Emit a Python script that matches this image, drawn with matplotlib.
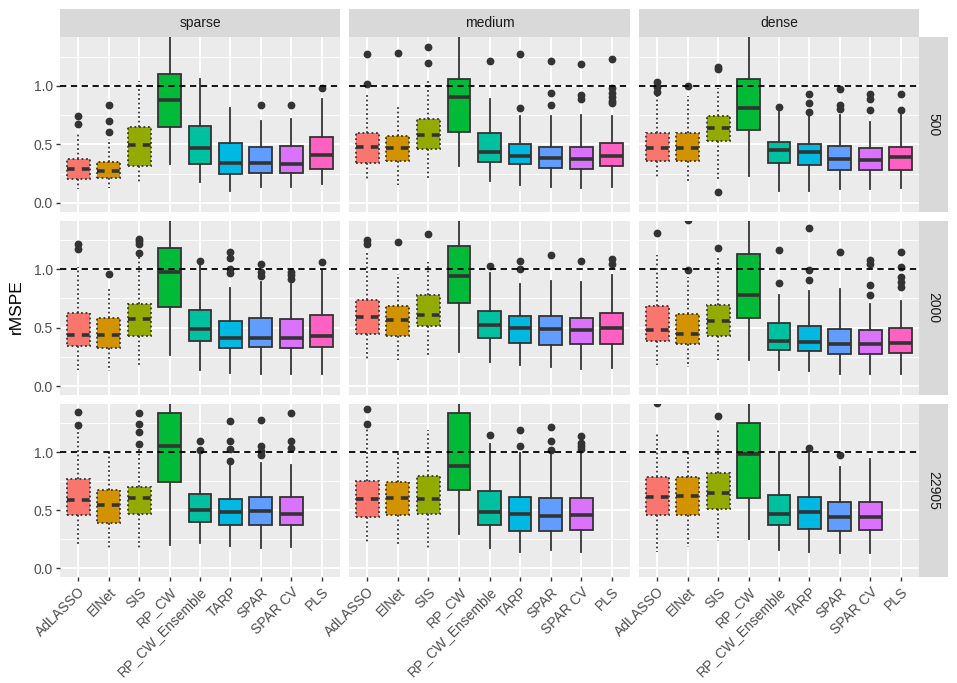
import matplotlib
matplotlib.use('Agg')
import matplotlib.pyplot as plt

plt.rcParams['font.family'] = ['Liberation Sans', 'DejaVu Sans']

methods = ['AdLASSO', 'ElNet', 'SIS', 'RP_CW', 'RP_CW_Ensemble', 'TARP', 'SPAR', 'SPAR CV', 'PLS']
colors = ['#F8766D', '#D39200', '#93AA00', '#00BA38', '#00C19F', '#00B9E3', '#619CFF', '#DB72FB', '#FF61C3']
dotted_methods = ['AdLASSO', 'ElNet', 'SIS']
densities = ['sparse', 'medium', 'dense']
sizes = ['500', '2000', '22905']

# (whisker low, q1, median, q3, whisker high) per method
sparse_500 = [(0.12, 0.205, 0.288, 0.376, 0.60), (0.13, 0.211, 0.274, 0.353, 0.55),
              (0.18, 0.319, 0.496, 0.652, 1.04), (0.33, 0.647, 0.88, 1.103, 1.6),
              (0.18, 0.333, 0.467, 0.658, 1.06), (0.105, 0.245, 0.339, 0.515, 0.81),
              (0.14, 0.259, 0.342, 0.479, 0.70), (0.14, 0.256, 0.33, 0.487, 0.72),
              (0.16, 0.291, 0.41, 0.564, 0.89)]
sparse_500_out = [[0.744, 0.675], [0.838, 0.70, 0.604], [], [], [], [], [0.838], [0.838], [0.985]]

medium_500 = [(0.197, 0.344, 0.479, 0.601, 0.93), (0.154, 0.359, 0.473, 0.575, 0.823),
              (0.205, 0.459, 0.581, 0.715, 1.05), (0.316, 0.609, 0.903, 1.057, 1.6),
              (0.188, 0.35, 0.433, 0.601, 0.889), (0.154, 0.33, 0.402, 0.501, 0.746),
              (0.14, 0.296, 0.385, 0.481, 0.744), (0.125, 0.288, 0.379, 0.479, 0.752),
              (0.134, 0.316, 0.405, 0.512, 0.744)]
medium_500_out = [[1.27, 1.017], [1.28], [1.333, 1.194], [], [1.214], [1.274, 0.815],
                  [1.21, 0.938, 0.838], [1.188, 0.923, 0.886],
                  [1.228, 0.98, 0.94, 0.906, 0.872, 0.852]]

dense_500 = [(0.225, 0.362, 0.473, 0.596, 0.91), (0.174, 0.359, 0.473, 0.601, 0.91),
             (0.2, 0.533, 0.644, 0.746, 0.98), (0.231, 0.62, 0.809, 1.057, 1.6),
             (0.105, 0.339, 0.453, 0.524, 0.78), (0.103, 0.325, 0.439, 0.504, 0.752),
             (0.117, 0.282, 0.373, 0.49, 0.752), (0.117, 0.279, 0.368, 0.467, 0.695),
             (0.125, 0.279, 0.396, 0.481, 0.752)]
dense_500_out = [[1.037, 0.989, 0.951], [1.0], [1.165, 1.142, 0.094], [], [0.823],
                 [0.929, 0.852, 0.775], [0.974, 0.838, 0.80], [0.932, 0.886, 0.795], [0.929, 0.795]]

sparse_2000 = [(0.137, 0.345, 0.439, 0.627, 1.02), (0.131, 0.328, 0.439, 0.579, 0.849),
               (0.165, 0.427, 0.573, 0.707, 1.12), (0.265, 0.678, 0.977, 1.18, 1.6),
               (0.137, 0.387, 0.487, 0.655, 1.034), (0.114, 0.33, 0.416, 0.558, 0.843),
               (0.103, 0.336, 0.416, 0.579, 0.892), (0.103, 0.33, 0.41, 0.573, 0.872),
               (0.103, 0.336, 0.427, 0.607, 0.991)]
sparse_2000_out = [[1.22, 1.17], [0.963], [1.26, 1.24, 1.22, 1.14], [], [1.074],
                   [1.148, 1.1, 1.006, 0.969], [1.048, 0.977, 0.94], [0.977, 0.95, 0.915], [1.063]]

medium_2000 = [(0.236, 0.45, 0.593, 0.735, 1.15), (0.228, 0.43, 0.57, 0.684, 0.963),
               (0.256, 0.513, 0.613, 0.778, 1.063), (0.293, 0.712, 0.94, 1.197, 1.6),
               (0.208, 0.413, 0.527, 0.641, 0.969), (0.185, 0.373, 0.499, 0.601, 0.877),
               (0.165, 0.35, 0.493, 0.598, 0.9), (0.145, 0.359, 0.484, 0.587, 0.892),
               (0.16, 0.365, 0.501, 0.627, 0.949)]
medium_2000_out = [[1.248, 1.22], [1.234], [1.305], [], [1.026], [1.071, 1.0], [1.12], [1.068],
                   [1.091, 1.048]]

dense_2000 = [(0.179, 0.385, 0.479, 0.684, 1.12), (0.165, 0.365, 0.444, 0.615, 0.934),
              (0.222, 0.43, 0.556, 0.692, 1.105), (0.228, 0.581, 0.778, 1.128, 1.6),
              (0.142, 0.308, 0.387, 0.541, 0.778), (0.131, 0.299, 0.382, 0.516, 0.815),
              (0.103, 0.274, 0.359, 0.493, 0.835), (0.108, 0.279, 0.359, 0.484, 0.701),
              (0.108, 0.288, 0.373, 0.501, 0.729)]
dense_2000_out = [[1.31], [0.997, 1.42], [1.185], [], [1.162, 0.886], [1.353, 0.991, 0.906],
                  [1.148], [1.077, 1.048, 0.863, 0.783], [1.148, 1.02, 0.93, 0.89, 0.85]]

sparse_22905 = [(0.205, 0.459, 0.59, 0.767, 1.2), (0.177, 0.39, 0.544, 0.675, 1.003),
                (0.162, 0.467, 0.607, 0.704, 1.046), (0.197, 0.746, 1.054, 1.339, 1.6),
                (0.214, 0.396, 0.504, 0.638, 0.974), (0.191, 0.376, 0.481, 0.596, 0.889),
                (0.177, 0.376, 0.49, 0.61, 0.903), (0.185, 0.376, 0.47, 0.61, 0.889), None]
sparse_22905_out = [[1.35, 1.237], [], [1.336, 1.245, 1.174, 1.074], [], [1.094, 1.023],
                    [1.268, 1.097, 1.031, 0.926], [1.276, 1.051, 1.011, 0.972],
                    [1.336, 1.097, 1.037], []]

medium_22905 = [(0.205, 0.442, 0.595, 0.755, 1.2), (0.211, 0.462, 0.607, 0.746, 1.011),
                (0.171, 0.47, 0.598, 0.795, 1.188), (0.299, 0.675, 0.88, 1.336, 1.6),
                (0.171, 0.37, 0.481, 0.669, 1.068), (0.142, 0.319, 0.47, 0.61, 0.989),
                (0.154, 0.325, 0.447, 0.604, 0.997), (0.142, 0.33, 0.462, 0.604, 0.997), None]
medium_22905_out = [[1.373, 1.245], [], [], [], [1.151], [1.188, 1.054], [1.217, 1.097, 1.023],
                    [1.14, 1.083, 1.054, 1.026], []]

dense_22905 = [(0.142, 0.462, 0.61, 0.789, 1.16), (0.185, 0.456, 0.624, 0.784, 0.997),
               (0.239, 0.51, 0.652, 0.818, 1.2), (0.248, 0.604, 0.983, 1.25, 1.6),
               (0.154, 0.376, 0.467, 0.632, 1.003), (0.142, 0.342, 0.484, 0.618, 1.0),
               (0.128, 0.319, 0.439, 0.575, 0.869), (0.134, 0.33, 0.439, 0.575, 0.937), None]
dense_22905_out = [[1.42], [], [1.31], [], [], [1.037], [0.974], [], []]

panels = {
    ('sparse', '500'): (sparse_500, sparse_500_out),
    ('medium', '500'): (medium_500, medium_500_out),
    ('dense', '500'): (dense_500, dense_500_out),
    ('sparse', '2000'): (sparse_2000, sparse_2000_out),
    ('medium', '2000'): (medium_2000, medium_2000_out),
    ('dense', '2000'): (dense_2000, dense_2000_out),
    ('sparse', '22905'): (sparse_22905, sparse_22905_out),
    ('medium', '22905'): (medium_22905, medium_22905_out),
    ('dense', '22905'): (dense_22905, dense_22905_out),
}

W, H = 957, 683
fig = plt.figure(figsize=(W / 100, H / 100), dpi=100)
fig.patch.set_facecolor('white')

col_x = [(60, 340), (349, 630), (639, 919)]
row_y = [(37.3, 211.7), (220.7, 395), (404, 577)]
strip_top = (9, 37.3)
strip_right = (919, 948)


def fig_rect(x0, x1, y0, y1):
    return [x0 / W, 1 - y1 / H, (x1 - x0) / W, (y1 - y0) / H]


dot = (0, (1, 1.5))
grey20 = '#333333'
fs = 10

for r, n in enumerate(sizes):
    for c, d in enumerate(densities):
        ax = fig.add_axes(fig_rect(col_x[c][0], col_x[c][1], row_y[r][0], row_y[r][1]))
        ax.set_facecolor('#EBEBEB')
        for s in ax.spines.values():
            s.set_visible(False)
        ax.set_xlim(0.4, 9.6)
        ax.set_ylim(-0.075, 1.415)
        ax.set_xticks(range(1, len(methods) + 1))
        ax.set_yticks([0, 0.5, 1.0])
        ax.set_yticks([0.25, 0.75, 1.25], minor=True)
        ax.grid(which='major', color='white', lw=1.3)
        ax.grid(which='minor', axis='y', color='white', lw=0.65)
        ax.set_axisbelow(True)
        ax.tick_params(which='minor', length=0)
        ax.tick_params(which='major', length=3.2, width=1.0, color=grey20,
                       labelsize=fs, labelcolor='#4D4D4D', pad=2)

        data, outs = panels[(d, n)]
        stats, pos, cols, names = [], [], [], []
        for i, s in enumerate(data):
            if s is None:
                continue
            lo, q1, med, q3, hi = s
            stats.append(dict(whislo=lo, q1=q1, med=med, q3=q3, whishi=hi, fliers=outs[i]))
            pos.append(i + 1)
            cols.append(colors[i])
            names.append(methods[i])
        bp = ax.bxp(stats, positions=pos, widths=0.75, patch_artist=True, showcaps=False,
                    boxprops=dict(edgecolor=grey20, lw=1.3),
                    whiskerprops=dict(color=grey20, lw=1.3),
                    medianprops=dict(color=grey20, lw=2.6, solid_capstyle='butt'),
                    flierprops=dict(marker='o', markerfacecolor=grey20, markeredgecolor=grey20,
                                    markersize=4.6, linestyle='none'),
                    manage_ticks=False)
        for k, name in enumerate(names):
            bp['boxes'][k].set_facecolor(cols[k])
            if name in dotted_methods:
                bp['boxes'][k].set_linestyle(dot)
                bp['whiskers'][2 * k].set_linestyle(dot)
                bp['whiskers'][2 * k + 1].set_linestyle(dot)
                bp['medians'][k].set_linestyle((0, (2.1, 2.0)))

        ax.axhline(1.0, color='black', lw=1.3, ls=(0, (3.5, 2.5)), zorder=6)

        if c == 0:
            ax.set_yticklabels(['0.0', '0.5', '1.0'])
        else:
            ax.tick_params(axis='y', which='both', left=False, labelleft=False)
        if r == 2:
            ax.set_xticklabels(methods, rotation=45, ha='right', va='top', rotation_mode='anchor')
            ax.tick_params(axis='x', pad=2.5)
        else:
            ax.tick_params(axis='x', which='both', bottom=False, labelbottom=False)

        if r == 0:
            sax = fig.add_axes(fig_rect(col_x[c][0], col_x[c][1], strip_top[0], strip_top[1]))
            sax.set_facecolor('#D9D9D9')
            sax.set_xticks([]); sax.set_yticks([])
            for s in sax.spines.values():
                s.set_visible(False)
            sax.text(0.5, 0.5, d, ha='center', va='center', fontsize=fs, color='#1A1A1A',
                     transform=sax.transAxes)
        if c == 2:
            sax = fig.add_axes(fig_rect(strip_right[0], strip_right[1], row_y[r][0], row_y[r][1]))
            sax.set_facecolor('#D9D9D9')
            sax.set_xticks([]); sax.set_yticks([])
            for s in sax.spines.values():
                s.set_visible(False)
            sax.text(0.5, 0.5, n, ha='center', va='center', fontsize=fs, color='#1A1A1A',
                     rotation=-90, transform=sax.transAxes)

fig.text(16 / W, 1 - 307 / H, 'rMSPE', rotation=90, ha='center', va='center', fontsize=12.5,
         color='black')

fig.savefig('out.png', dpi=100)
